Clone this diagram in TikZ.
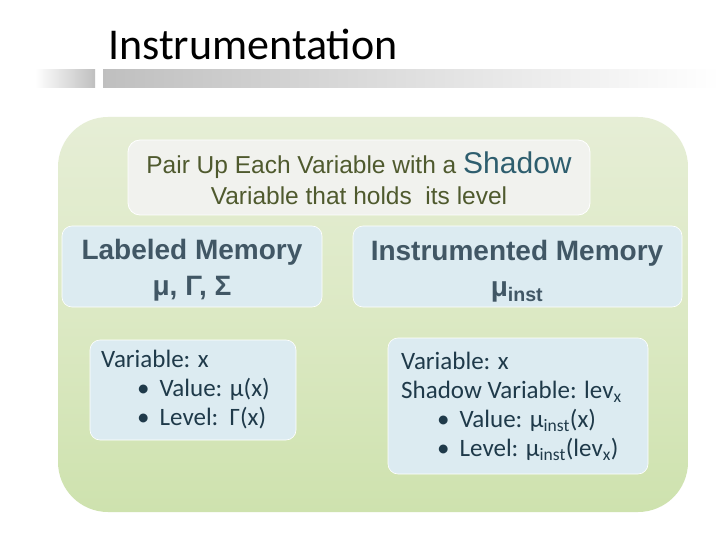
\documentclass[tikz,border=0pt]{standalone}
\usepackage{fontspec}
\setmainfont{Carlito}
\newfontfamily\arl{Liberation Sans}
\usetikzlibrary{shadings}
\definecolor{olive}{HTML}{4F5A2E}
\definecolor{teal2}{HTML}{2E5E6E}
\definecolor{navy}{HTML}{1F3A4A}
\definecolor{boxb}{HTML}{DCEBF1}
\definecolor{pantop}{HTML}{E6EED6}
\definecolor{panmid}{HTML}{DCE9C4}
\definecolor{panbot}{HTML}{CEE2AE}
\tikzset{hdr/.style={rounded corners=10pt,fill=boxb,draw=white,line width=0.6pt},
  txt/.style={text=navy,font=\fontsize{25}{29}\selectfont,align=left,anchor=north west,inner sep=0}}
\begin{document}
\begin{tikzpicture}[x=1pt,y=-1pt]
\useasboundingbox (0,0) rectangle (720,540);
\fill[white] (0,0) rectangle (720,540);
\node[anchor=base west,inner sep=0,font=\fontsize{44}{50}\selectfont] (title) at (108,60) {Instrumentation};
\shade[left color=white,right color=gray!50] (35,70) rectangle (95,88);
\shade[left color=gray!50,right color=white] (103,70) rectangle (720,88);
\shade[rounded corners=50pt,top color=pantop,bottom color=panbot,middle color=panmid] (58,117) rectangle (688,512);
\draw[rounded corners=12pt,fill=olive!8!white,draw=white,line width=0.8pt] (128,140) rectangle (590,215);
\node[align=center,text=olive,font=\arl\fontsize{24.5}{31}\selectfont] (top) at (359,178) {Pair Up Each Variable with a {\color{teal2}\fontsize{30}{31}\selectfont Shadow}\\Variable that holds\ \ its level};
\draw[hdr] (62,226) rectangle (322,307);
\draw[hdr] (353,226) rectangle (682,307);
\node[align=center,text=navy!85,font=\arl\bfseries\fontsize{28}{36}\selectfont] (lm) at (192,270) {Labeled Memory\\μ, Γ, Σ};
\node[align=center,text=navy!85,font=\arl\bfseries\fontsize{28}{36}\selectfont] (im) at (517,271) {Instrumented Memory\\μ\textsubscript{inst}};
\draw[hdr] (90,340) rectangle (296,440);
\draw[hdr] (388,338) rectangle (648,474);
\node[txt] (ld) at (101,350) {Variable: x\\\hspace{36pt}•\hspace{10pt}Value: μ(x)\\\hspace{36pt}•\hspace{10pt}Level:\ \ Γ(x)};
\node[txt] (rd) at (401,352) {Variable: x\\Shadow Variable: lev\textsubscript{x}\\\hspace{36pt}•\hspace{10pt}Value: μ\textsubscript{inst}(x)\\\hspace{36pt}•\hspace{10pt}Level: μ\textsubscript{inst}(lev\textsubscript{x})};
\end{tikzpicture}
\end{document}
